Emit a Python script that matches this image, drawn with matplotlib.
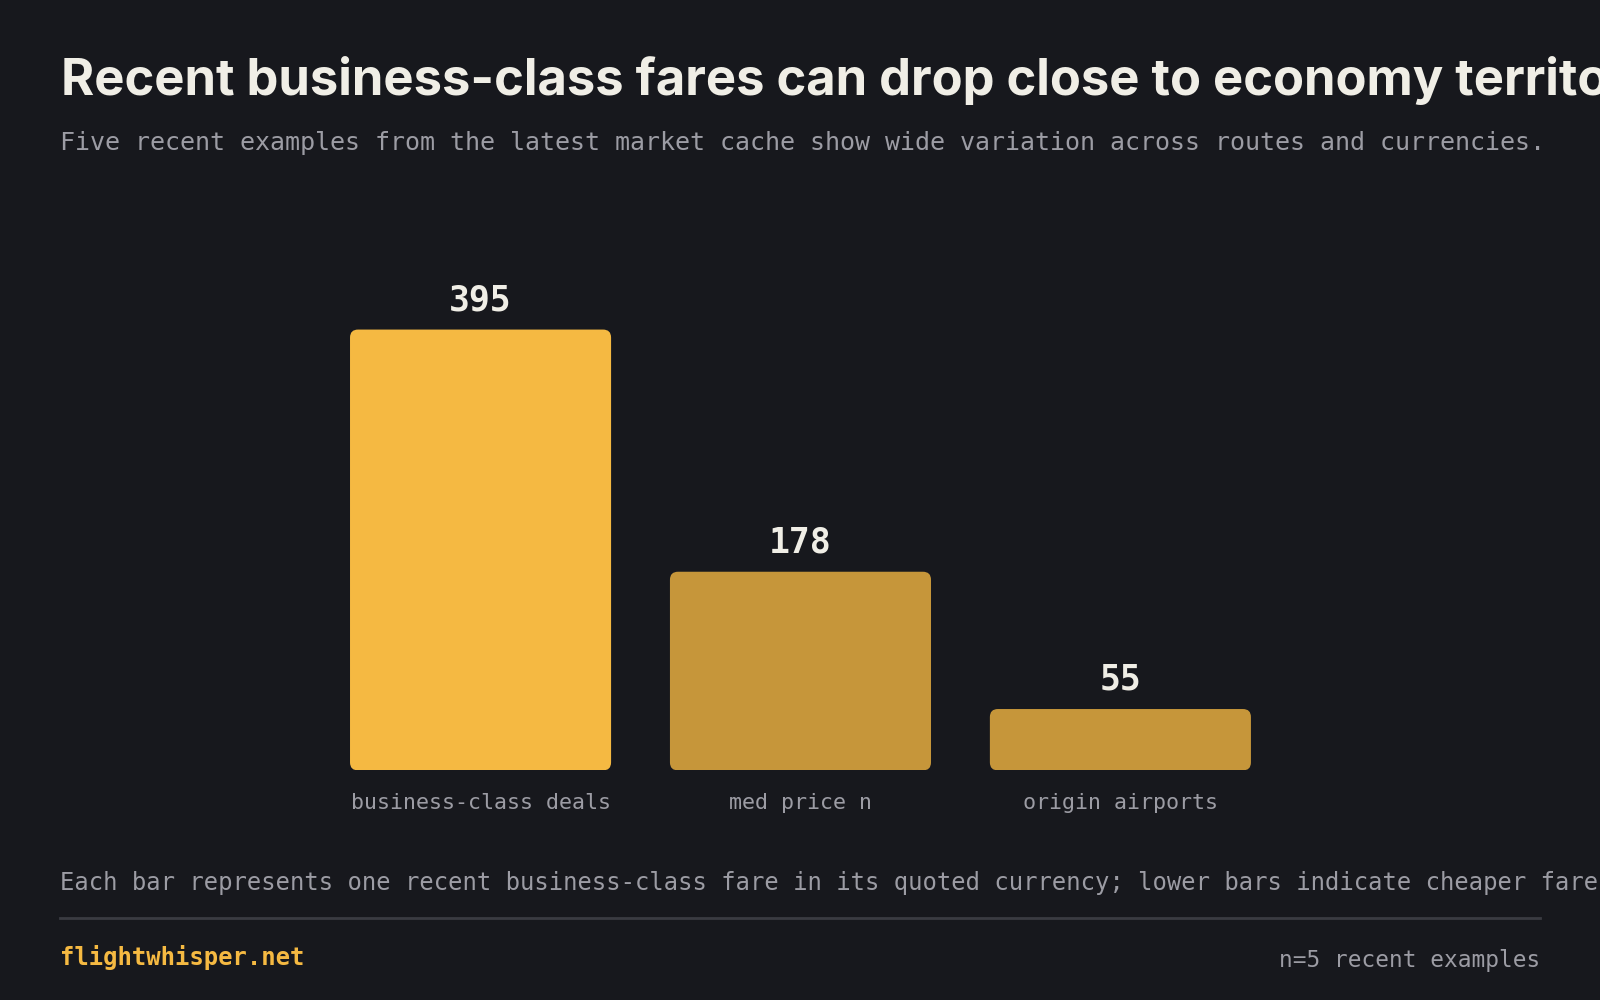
import matplotlib
matplotlib.use("Agg")
import matplotlib.pyplot as plt
from matplotlib.patches import FancyBboxPatch
from matplotlib.lines import Line2D

categories = ["business-class deals", "med price n", "origin airports"]
values = [395, 178, 55]
bar_colors = ["#F5B942", "#C6963A", "#C6963A"]

title = "Recent business-class fares can drop close to economy territory"
subtitle = ("Five recent examples from the latest market cache show wide "
            "variation across routes and currencies.")
footnote = ("Each bar represents one recent business-class fare in its quoted "
            "currency; lower bars indicate cheaper fares.")
brand = "flightwhisper.net"
sample_note = "n=5 recent examples"

BG = "#17181D"
CREAM = "#F0EEE6"
GREY = "#9C9CA4"
MONO = ["DejaVu Sans Mono"]

fig = plt.figure(figsize=(16, 10), dpi=100, facecolor=BG)

fig.text(0.0383, 0.905, title, family=["Inter", "DejaVu Sans"], weight="bold",
         fontsize=36.5, color=CREAM, va="baseline", ha="left")
fig.text(0.0376, 0.857, subtitle, family=MONO, fontsize=18, color=GREY,
         va="center", ha="left")

ax = fig.add_axes([0.0376, 0.2296, 0.9248, 0.5357])
ax.set_facecolor(BG)
ax.set_xlim(-1.314, 3.311)
ax.set_ylim(0, 480)
for s in ax.spines.values():
    s.set_visible(False)
ax.set_yticks([])
x = list(range(len(values)))
ax.set_xticks(x)
ax.set_xticklabels(categories, family=MONO, fontsize=15.6, color=GREY)
ax.tick_params(axis="x", length=0, pad=16)

width = 0.816
# rounding radius ~8px, converted to data units on each axis
fig.canvas.draw()
bbox = ax.get_window_extent()
px_x = bbox.width / (3.311 + 1.314)
px_y = bbox.height / 480
r = 8 / px_x
aspect = px_x / px_y
for xi, v, c in zip(x, values, bar_colors):
    patch = FancyBboxPatch((xi - width / 2, 0), width, v,
                           boxstyle=f"round,pad=0,rounding_size={r}",
                           mutation_aspect=aspect, facecolor=c,
                           edgecolor="none")
    ax.add_patch(patch)
    ax.annotate(str(v), (xi, v), xytext=(0, 9), textcoords="offset points",
                ha="center", va="bottom", family=MONO, weight="bold",
                fontsize=25, color=CREAM)

fig.text(0.0376, 0.1173, footnote, family=MONO, fontsize=17.2, color=GREY,
         va="center", ha="left")
fig.add_artist(Line2D([0.0376, 0.9624], [0.0816, 0.0816], color="#3A3B42",
                      lw=2, transform=fig.transFigure))
fig.text(0.0376, 0.0429, brand, family=MONO, weight="bold", fontsize=17.2,
         color="#F5B942", va="center", ha="left")
fig.text(0.9624, 0.0398, sample_note, family=MONO, fontsize=16.4, color=GREY,
         va="center", ha="right")

fig.savefig("out.png", dpi=100, facecolor=BG)
